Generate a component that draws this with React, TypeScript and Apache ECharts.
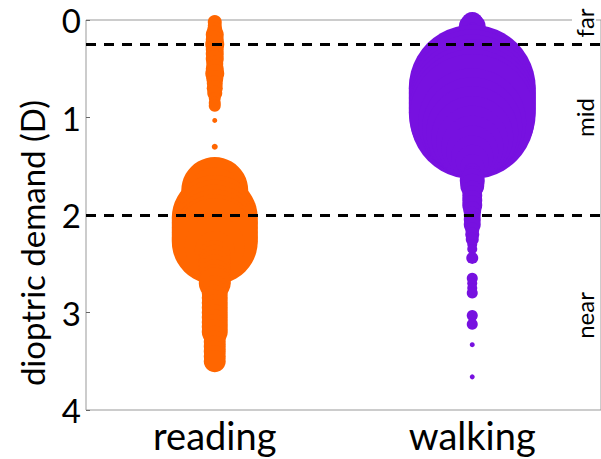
import React, { useEffect, useRef } from "react";
import * as echarts from "echarts";

// categories
const categories = ["reading", "walking"];
const yTicks = [0, 1, 2, 3, 4];
const boundaries = [0.25, 2.0];
const zoneLabels = ["far", "mid", "near"];
const zoneCenters = [0.03, 1.0, 3.03];
const yTitle = "dioptric demand (D)";

// reading: dioptric demand (D) and marker weight (diameter)
const readingDepth = [
  0.02, 0.06, 0.1, 0.15, 0.2, 0.25, 0.3, 0.35, 0.4, 0.45, 0.5, 0.55, 0.6, 0.65, 0.7, 0.75, 0.8, 0.85, 0.88,
  1.03, 1.3,
  1.5, 1.55, 1.6, 1.65, 1.7, 1.75, 1.8, 1.85, 1.9, 1.95, 2.0, 2.03, 2.08, 2.13, 2.18, 2.23, 2.27,
  2.32, 2.37, 2.42, 2.47, 2.52, 2.57, 2.62, 2.67, 2.7,
  2.75, 2.8, 2.85, 2.9, 2.95, 3.0, 3.05, 3.1, 3.15, 3.2,
  3.25, 3.3, 3.35, 3.4, 3.45, 3.5,
];
const readingWeight = [
  14, 14, 15, 18, 18, 19, 18, 18, 18, 17, 18, 19, 17, 16, 16, 15, 12, 12, 12,
  5, 6,
  16, 24, 34, 44, 55, 67, 56, 50, 60, 70, 80, 86, 86, 86, 86, 86, 86,
  60, 40, 32, 32, 32, 32, 32, 32, 32,
  26, 26, 26, 26, 26, 26, 26, 26, 26, 26,
  22, 22, 22, 22, 22, 22,
];

// walking
const walkingDepth = [
  0.03, 0.07, 0.11, 0.15, 0.2, 0.25, 0.3, 0.35, 0.4, 0.45, 0.5, 0.55, 0.6, 0.65,
  0.7, 0.75, 0.8, 0.85, 0.9, 0.95, 0.99,
  1.05, 1.1, 1.15, 1.2, 1.25, 1.3, 1.35, 1.4, 1.45, 1.5, 1.55,
  1.6, 1.65, 1.7, 1.75, 1.8, 1.85, 1.9, 1.95, 2.0, 2.05, 2.1, 2.15, 2.2, 2.25, 2.3, 2.35, 2.44,
  2.65, 2.7, 2.75, 2.8, 3.03, 3.12, 3.33, 3.66,
];
const walkingWeight = [
  22, 27, 16, 20, 28, 38, 46, 56, 66, 76, 86, 95, 104, 114,
  127, 127, 127, 127, 127, 127, 125,
  108, 100, 92, 82, 72, 62, 52, 42, 33, 24, 16,
  20, 25, 24, 20, 20, 20, 20, 18, 17, 17, 17, 14, 14, 13, 10, 10, 12,
  11, 10, 10, 11, 11, 11, 5, 5,
];

const ORANGE = "#FF6600";
const PURPLE = "#7711E0";
const FONT = "Lato";

export default function App() {
  const ref = useRef<HTMLDivElement>(null);
  useEffect(() => {
    if (!ref.current) return;
    const chart = echarts.init(ref.current, null, { renderer: "svg" });
    const reading = readingDepth.map((d, i) => [0, d, readingWeight[i]]);
    const walking = walkingDepth.map((d, i) => [1, d, walkingWeight[i]]);
    const gridLeft = 86;
    const gridTop = 20;
    const gridBottom = 49;
    const plotH = 459 - gridTop - gridBottom;
    chart.setOption({
      animation: false,
      backgroundColor: "#fff",
      grid: {
        left: gridLeft,
        top: gridTop,
        right: -5,
        bottom: gridBottom,
        show: true,
        borderColor: "#999",
        borderWidth: 1,
      },
      xAxis: {
        type: "category",
        data: categories,
        boundaryGap: true,
        axisLine: { show: false },
        axisTick: { show: true, inside: true, alignWithLabel: true, length: 4, lineStyle: { color: "#666" } },
        axisLabel: { fontSize: 38, color: "#000", fontFamily: FONT, margin: 6 },
        splitLine: { show: false },
      },
      yAxis: {
        type: "value",
        inverse: true,
        min: yTicks[0],
        max: yTicks[yTicks.length - 1],
        interval: 1,
        axisLine: { show: false },
        axisTick: { show: true, inside: true, length: 4, lineStyle: { color: "#666" } },
        axisLabel: { fontSize: 33, color: "#000", fontFamily: FONT, margin: 5 },
        splitLine: { show: false },
      },
      series: [
        {
          type: "scatter",
          data: reading,
          symbol: "circle",
          symbolSize: (v: number[]) => v[2],
          itemStyle: { color: ORANGE, opacity: 1 },
          z: 2,
        },
        {
          type: "scatter",
          data: walking,
          symbol: "circle",
          symbolSize: (v: number[]) => v[2],
          itemStyle: { color: PURPLE, opacity: 1 },
          z: 2,
        },
        {
          type: "line",
          data: [],
          z: 10,
          markLine: {
            silent: true,
            symbol: ["none", "none"],
            label: { show: false },
            lineStyle: { color: "#000", type: [10, 8], width: 3 },
            data: boundaries.map((b) => ({ yAxis: b })),
          },
        },
      ],
      graphic: [
        {
          type: "text",
          x: 32,
          y: 243,
          rotation: Math.PI / 2,
          style: {
            text: yTitle,
            fontSize: 33,
            fontFamily: FONT,
            fill: "#000",
            align: "center",
            verticalAlign: "middle",
          },
        },
        ...zoneLabels.map((t, i) => ({
          type: "text",
          x: 584,
          y: gridTop + (zoneCenters[i] / 4) * plotH,
          rotation: Math.PI / 2,
          z: 20,
          style: {
            text: t,
            fontSize: 24,
            fontFamily: FONT,
            fill: "#000",
            align: "center",
            verticalAlign: "middle",
            backgroundColor: "#fff",
          },
        })),
      ],
    });
    return () => chart.dispose();
  }, []);
  return <div ref={ref} style={{ position: "fixed", left: 0, top: 0, width: 601, height: 459 }} />;
}
